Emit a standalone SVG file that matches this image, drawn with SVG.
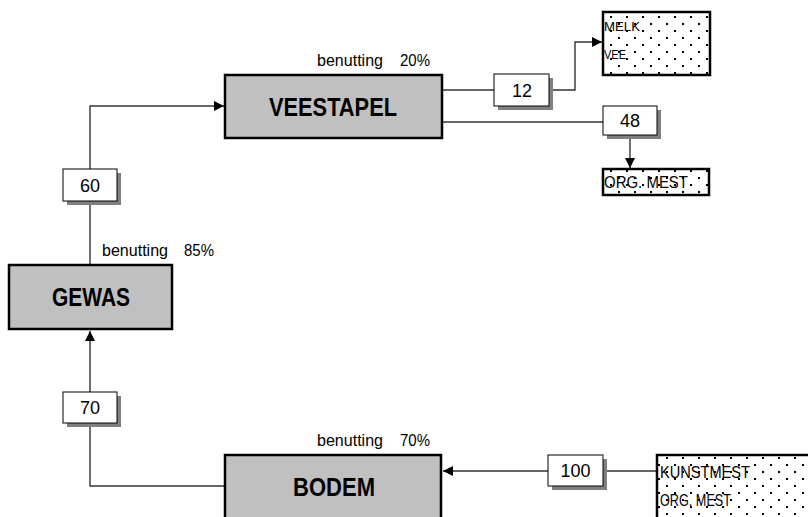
<svg xmlns="http://www.w3.org/2000/svg" width="808" height="517" viewBox="0 0 808 517">
<defs>
<style>
.main{fill:#c0c0c0;stroke:#000;stroke-width:2.5}
.title{font-family:"Liberation Sans",Arial,sans-serif;font-weight:bold;font-size:25px;fill:#000;text-anchor:middle}
.ben{font-family:"Liberation Sans",Arial,sans-serif;font-size:16px;fill:#000}
.num{fill:#fff;stroke:#000;stroke-width:1}
.shadow{fill:#808080}
.numt{font-family:"Liberation Sans",Arial,sans-serif;font-size:18px;fill:#000;text-anchor:middle}
.out{fill:url(#dots);stroke:#000;stroke-width:2.5}
.outt{font-family:"Liberation Sans",Arial,sans-serif;fill:#000}
.conn{fill:none;stroke:#333;stroke-width:1.4}
</style>
<pattern id="dots" patternUnits="userSpaceOnUse" x="0" y="0" width="16" height="14">
<rect width="16" height="14" fill="#fff"/>
<rect x="2" y="2" width="2" height="2" fill="#000"/>
<rect x="10" y="9" width="2" height="2" fill="#000"/>
</pattern>
<marker id="arr" viewBox="0 0 10 10" refX="10" refY="5" markerWidth="10" markerHeight="10" markerUnits="userSpaceOnUse" orient="auto">
<path d="M0,0 L10,5 L0,10 Z" fill="#000"/>
</marker>
</defs>

<g id="connectors">
<path class="conn" d="M225,486 H90 V331" marker-end="url(#arr)"/>
<path class="conn" d="M90,265 V106 H224" marker-end="url(#arr)"/>
<path class="conn" d="M657,471 H443" marker-end="url(#arr)"/>
<path class="conn" d="M442,90 H575 V42 H602" marker-end="url(#arr)"/>
<path class="conn" d="M442,122 H630 V168" marker-end="url(#arr)"/>
</g>

<g id="veestapel">
<rect class="main" x="225" y="75" width="217" height="63"/>
<text class="title" x="333" y="116" textLength="128" lengthAdjust="spacingAndGlyphs">VEESTAPEL</text>
<text class="ben" x="317" y="66" textLength="66" lengthAdjust="spacingAndGlyphs">benutting</text>
<text class="ben" x="400" y="66" textLength="30" lengthAdjust="spacingAndGlyphs">20%</text>
</g>

<g id="gewas">
<rect class="main" x="9" y="265" width="163" height="64"/>
<text class="title" x="91" y="306" textLength="78" lengthAdjust="spacingAndGlyphs">GEWAS</text>
<text class="ben" x="102" y="256" textLength="66" lengthAdjust="spacingAndGlyphs">benutting</text>
<text class="ben" x="184" y="256" textLength="30" lengthAdjust="spacingAndGlyphs">85%</text>
</g>

<g id="bodem">
<rect class="main" x="225" y="455" width="216" height="70"/>
<text class="title" x="334" y="496" textLength="82" lengthAdjust="spacingAndGlyphs">BODEM</text>
<text class="ben" x="317" y="446" textLength="66" lengthAdjust="spacingAndGlyphs">benutting</text>
<text class="ben" x="400" y="446" textLength="30" lengthAdjust="spacingAndGlyphs">70%</text>
</g>

<g id="n60">
<rect class="shadow" x="67" y="173" width="54" height="32"/>
<rect class="num" x="63" y="169" width="54" height="32"/>
<text class="numt" x="90" y="192">60</text>
</g>

<g id="n70">
<rect class="shadow" x="67" y="396" width="54" height="31"/>
<rect class="num" x="63" y="392" width="54" height="31"/>
<text class="numt" x="90" y="414">70</text>
</g>

<g id="n12">
<rect class="shadow" x="498" y="78" width="55" height="32"/>
<rect class="num" x="494" y="74" width="55" height="32"/>
<text class="numt" x="522" y="97">12</text>
</g>

<g id="n48">
<rect class="shadow" x="607" y="110" width="54" height="29"/>
<rect class="num" x="603" y="106" width="54" height="29"/>
<text class="numt" x="630" y="127">48</text>
</g>

<g id="n100">
<rect class="shadow" x="552" y="459" width="55" height="31"/>
<rect class="num" x="548" y="455" width="55" height="31"/>
<text class="numt" x="575.5" y="477">100</text>
</g>

<g id="melkvee">
<rect class="out" x="603" y="12" width="107" height="63"/>
<text class="outt" x="604" y="31" font-size="13.5" textLength="36" lengthAdjust="spacingAndGlyphs">MELK</text>
<text class="outt" x="604" y="59" font-size="13.5" textLength="22" lengthAdjust="spacingAndGlyphs">VEE</text>
</g>

<g id="orgmest">
<rect class="out" x="603" y="169" width="106" height="26"/>
<text class="outt" x="604" y="188" font-size="17" textLength="84" lengthAdjust="spacingAndGlyphs">ORG. MEST</text>
</g>

<g id="kunstmest">
<rect class="out" x="657" y="455" width="160" height="70"/>
<text class="outt" x="660" y="478" font-size="17" textLength="90" lengthAdjust="spacingAndGlyphs">KUNSTMEST</text>
<text class="outt" x="660" y="506" font-size="17" textLength="71" lengthAdjust="spacingAndGlyphs">ORG. MEST</text>
</g>
</svg>
